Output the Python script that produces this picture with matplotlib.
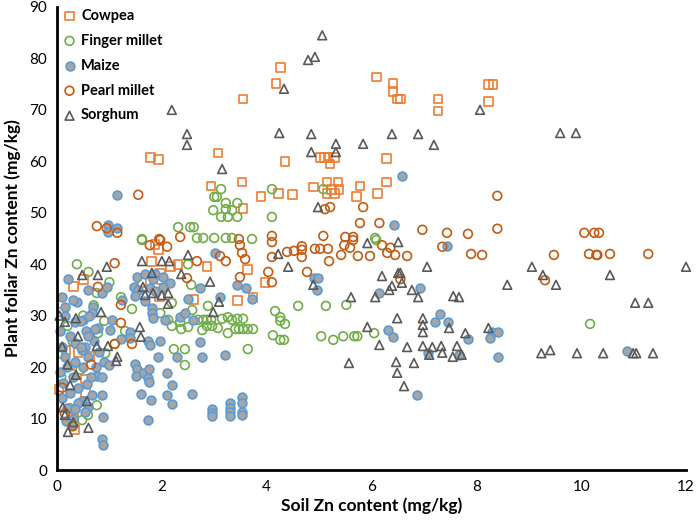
import matplotlib
matplotlib.use("Agg")
import matplotlib.pyplot as plt

# Cowpea
cowpea_x = [4.27, 4.18, 6.09, 6.41, 6.41, 6.49, 6.56, 7.27, 7.27, 8.23, 8.32, 8.23, 3.55,
            1.79, 1.93, 3.07, 2.94, 3.53, 3.89, 3.55, 4.35, 5.02, 5.11, 5.17, 5.29, 5.21,
            6.28, 5.15, 5.36, 4.89, 5.23, 5.38, 5.15, 5.29, 4.22, 4.50, 5.78, 6.28, 6.11,
            5.71, 1.81, 2.31, 2.86, 2.16, 3.64, 1.62, 2.00, 1.97, 0.50, 0.32, 2.60, 3.44,
            3.74, 1.95, 0.40, 0.63, 1.93, 1.87, 0.34, 0.31, 0.04, 0.55, 0.55, 3.97, 0.10,
            0.17, 0.25]
cowpea_y = [78.3, 75.2, 76.4, 75.2, 73.5, 72.1, 72.1, 72.1, 69.8, 75.0, 75.0, 71.7, 72.1,
            60.8, 60.3, 61.6, 55.2, 56.0, 53.1, 50.9, 59.9, 60.8, 60.8, 60.8, 60.8, 59.5,
            60.5, 56.0, 56.0, 55.0, 54.6, 54.6, 53.8, 53.8, 53.8, 53.5, 55.2, 56.0, 53.8,
            53.1, 40.6, 40.0, 39.5, 39.5, 38.9, 36.4, 37.1, 38.3, 37.1, 35.6, 33.2, 33.0,
            33.6, 33.8, 22.9, 22.0, 42.8, 43.9, 7.8, 10.1, 15.6, 15.0, 17.7, 36.5, 30.7,
            23.3, 20.2]

# Finger millet
finger_x = [3.13, 3.00, 3.05, 3.22, 3.44, 3.22, 3.34, 2.98, 3.13, 3.26, 3.44, 2.31, 2.54,
            2.61, 1.62, 2.67, 2.79, 3.00, 3.22, 3.34, 3.72, 4.10, 5.08, 4.10, 6.07, 0.38,
            1.62, 2.50, 2.56, 0.76, 1.22, 1.43, 2.19, 1.97, 2.88, 2.58, 2.12, 2.19, 2.35,
            2.37, 2.50, 2.69, 2.79, 2.86, 2.94, 2.77, 2.86, 2.96, 3.07, 3.15, 3.26, 3.34,
            3.44, 3.55, 3.26, 3.40, 3.47, 3.55, 3.64, 3.74, 0.78, 0.63, 2.23, 2.44, 3.64,
            0.92, 4.16, 4.26, 4.26, 4.35, 4.60, 5.13, 5.52, 4.12, 4.26, 4.33, 5.04, 5.27,
            5.46, 5.67, 5.73, 6.05, 6.09, 10.17, 2.44, 0.76, 0.48, 0.59, 0.08, 0.20, 0.50,
            0.90, 0.10, 0.30, 0.70, 1.10, 0.45, 0.25, 1.00, 0.60, 1.30]
finger_y = [54.6, 53.1, 53.1, 51.9, 51.9, 50.7, 50.5, 50.5, 49.2, 49.2, 49.2, 47.2, 47.2,
            47.2, 44.9, 45.1, 45.1, 45.1, 45.1, 45.1, 44.9, 54.6, 54.6, 49.2, 45.1, 40.0,
            44.7, 40.0, 36.0, 34.4, 33.6, 31.3, 32.5, 30.5, 31.9, 31.1, 29.2, 28.0, 28.8,
            27.4, 27.8, 29.2, 29.2, 29.2, 29.2, 27.2, 28.0, 28.0, 27.6, 29.4, 29.7, 29.2,
            29.4, 29.4, 26.6, 27.4, 27.4, 27.4, 27.4, 27.4, 26.6, 26.6, 23.5, 23.5, 23.5,
            22.7, 30.9, 29.7, 29.0, 28.4, 31.9, 31.9, 32.1, 26.2, 25.3, 25.3, 26.0, 25.3,
            26.0, 26.0, 26.0, 26.6, 44.7, 28.4, 20.4, 12.6, 9.7, 10.7, 18.1, 28.0, 30.0,
            29.0, 22.5, 25.0, 32.0, 24.5, 19.5, 12.0, 36.5, 38.5, 27.0]

# Maize
maize_x = [1.15, 0.97, 0.97, 1.15, 6.58, 6.43, 0.21, 0.59, 0.86, 0.95, 1.53, 1.68, 1.87,
           2.02, 2.16, 1.83, 1.47, 1.55, 1.77, 1.87, 2.02, 1.49, 1.68, 1.24, 1.81, 1.81,
           1.83, 2.06, 2.35, 2.44, 2.60, 2.73, 2.50, 3.02, 3.44, 3.61, 3.11, 3.72, 1.05,
           0.69, 0.67, 0.50, 0.34, 0.15, 0.38, 0.10, 0.78, 1.01, 1.39, 1.22, 1.39, 1.74,
           1.77, 1.97, 2.73, 0.34, 0.53, 0.48, 1.93, 2.29, 2.77, 3.21, 4.90, 4.98, 4.96,
           6.15, 6.93, 7.44, 7.31, 7.21, 7.46, 6.32, 6.41, 7.84, 7.08, 7.67, 8.30, 8.42,
           8.26, 8.42, 10.88, 1.49, 1.53, 1.64, 1.51, 1.76, 1.74, 1.76, 2.10, 2.19, 1.60,
           1.79, 2.10, 2.19, 2.58, 0.86, 0.88, 1.74, 0.86, 0.88, 2.96, 2.96, 2.96, 3.30,
           3.30, 3.30, 3.30, 3.53, 3.53, 3.53, 3.53, 0.67, 0.76, 0.86, 0.57, 0.48, 0.59,
           0.53, 6.87, 0.05, 0.10, 0.15, 0.20, 0.25, 0.30, 0.35, 0.40, 0.45, 0.50, 0.55,
           0.60, 0.65, 0.70, 0.75, 0.80, 0.10, 0.20, 0.30, 0.15, 0.30, 0.45, 0.62, 0.05,
           0.12, 0.25, 0.40, 0.60, 0.72, 0.90, 1.00, 0.35, 0.18, 0.28]
maize_y = [53.5, 47.6, 46.3, 47.0, 57.2, 47.6, 37.1, 35.0, 34.4, 35.6, 37.5, 38.1, 38.1,
           37.5, 36.4, 37.1, 35.6, 35.0, 35.4, 34.8, 35.6, 33.8, 32.9, 33.0, 31.5, 30.5,
           29.5, 29.2, 29.7, 30.5, 29.2, 35.4, 33.2, 42.2, 36.0, 35.4, 33.6, 33.2, 29.2,
           31.7, 30.5, 29.2, 28.8, 31.7, 32.7, 33.6, 27.6, 27.2, 26.8, 25.5, 25.7, 25.1,
           24.3, 25.1, 24.9, 24.7, 23.9, 23.3, 22.0, 22.0, 22.0, 22.4, 37.3, 37.3, 35.0,
           34.4, 35.4, 43.5, 30.3, 28.8, 28.8, 27.2, 25.9, 25.5, 22.7, 22.4, 26.8, 26.8,
           25.7, 22.0, 23.1, 20.6, 19.6, 18.9, 18.3, 19.6, 17.9, 17.1, 18.9, 16.5, 14.8,
           13.6, 14.6, 12.8, 14.8, 14.6, 10.3, 9.7, 6.0, 4.9, 11.9, 11.1, 10.5, 13.0,
           12.1, 11.3, 10.5, 14.2, 13.0, 11.3, 10.7, 14.6, 18.3, 18.1, 16.7, 13.4, 12.2,
           11.3, 14.6, 27.0, 24.0, 22.0, 20.0, 26.0, 18.0, 21.0, 16.0, 24.0, 20.0, 27.0,
           22.0, 18.0, 25.0, 20.0, 23.0, 14.0, 12.0, 10.0, 30.0, 33.0, 29.0, 30.0, 19.0,
           17.0, 15.0, 13.0, 26.0, 27.5, 21.0, 20.5, 11.8, 9.5, 8.8]

# Pearl millet
pearl_x = [1.55, 0.76, 0.95, 1.15, 1.95, 2.35, 3.47, 5.11, 5.21, 5.84, 5.78, 6.15, 6.97,
           7.44, 7.84, 4.10, 5.08, 5.50, 5.65, 8.40, 8.40, 10.06, 10.25, 10.34, 1.77, 2.10,
           1.97, 1.10, 2.67, 3.11, 3.22, 3.53, 3.59, 3.49, 0.78, 2.48, 1.22, 1.22, 1.10,
           1.43, 3.49, 4.10, 4.39, 4.52, 4.67, 4.67, 4.67, 4.92, 5.02, 5.17, 5.19, 5.42,
           5.48, 5.59, 5.65, 5.74, 5.97, 6.20, 6.30, 6.36, 6.45, 6.68, 7.35, 7.90, 4.03,
           4.10, 4.77, 6.55, 4.10, 8.11, 9.48, 10.15, 10.29, 10.31, 10.55, 11.28, 9.31,
           0.15, 0.30, 0.10, 0.65]
pearl_y = [53.5, 47.4, 47.0, 46.1, 44.9, 45.3, 44.9, 50.7, 51.1, 51.1, 48.0, 48.0, 46.7,
           46.1, 45.9, 45.5, 45.5, 45.3, 45.3, 53.3, 46.9, 46.1, 46.1, 46.1, 43.7, 43.4,
           44.7, 40.2, 40.6, 41.6, 40.6, 42.2, 41.0, 37.5, 35.6, 37.3, 32.1, 28.6, 24.5,
           24.5, 43.7, 41.4, 42.4, 42.6, 43.5, 42.8, 41.4, 43.0, 43.0, 43.0, 40.6, 41.8,
           43.7, 43.2, 44.7, 41.6, 41.6, 43.7, 42.2, 43.2, 41.8, 41.6, 43.4, 42.0, 38.5,
           36.5, 38.5, 37.1, 44.3, 41.8, 41.8, 42.0, 41.8, 41.8, 42.0, 42.0, 36.9,
           11.0, 8.5, 16.0, 20.5]

# Sorghum
sorghum_x = [5.06, 4.79, 4.92, 4.33, 8.07, 2.19, 2.48, 2.48, 3.15, 4.24, 4.85, 5.32, 4.85,
             5.32, 5.84, 6.39, 6.89, 7.19, 4.98, 9.60, 9.90, 1.62, 2.00, 2.14, 2.50, 0.95,
             0.48, 0.78, 1.81, 2.37, 2.92, 1.64, 1.83, 2.12, 2.00, 1.68, 2.12, 3.09, 2.98,
             0.84, 0.36, 0.15, 1.58, 1.60, 0.76, 0.97, 1.15, 4.22, 4.41, 4.89, 5.92, 6.51,
             7.06, 6.20, 6.51, 6.55, 6.39, 6.58, 6.34, 6.77, 6.07, 5.61, 6.89, 7.56, 7.67,
             6.49, 6.98, 6.98, 6.98, 7.48, 7.79, 5.92, 6.15, 6.68, 6.98, 7.16, 7.33, 7.63,
             7.10, 7.35, 7.55, 7.72, 9.06, 9.27, 9.52, 8.59, 10.55, 12.00, 11.03, 11.28,
             8.23, 9.24, 9.41, 9.92, 10.42, 10.99, 11.05, 11.37, 1.13, 0.60, 0.21, 0.31,
             0.15, 0.11, 0.25, 0.36, 0.57, 5.57, 6.47, 6.81, 6.49, 6.62, 0.10, 0.20, 0.05,
             0.40]
sorghum_y = [84.5, 79.7, 80.3, 74.1, 70.0, 70.0, 65.3, 63.2, 58.5, 65.5, 65.3, 63.4, 61.8,
             61.8, 63.4, 65.3, 65.3, 63.2, 51.1, 65.5, 65.5, 40.6, 40.6, 40.6, 41.8, 39.5,
             37.9, 37.9, 38.3, 38.1, 36.6, 35.6, 34.4, 34.4, 34.0, 34.0, 32.3, 32.7, 30.7,
             30.7, 29.5, 28.8, 27.8, 25.9, 24.1, 24.1, 22.0, 42.0, 39.5, 36.0, 44.1, 44.3,
             39.5, 37.7, 38.3, 38.3, 35.8, 36.4, 35.0, 35.0, 33.6, 33.6, 33.6, 33.8, 33.6,
             29.5, 29.5, 28.2, 26.8, 27.6, 26.6, 27.8, 24.3, 23.9, 24.1, 23.9, 24.1, 24.1,
             22.4, 22.8, 22.0, 22.4, 39.5, 37.9, 36.0, 36.0, 37.9, 39.5, 32.5, 32.5,
             27.6, 22.7, 23.3, 22.7, 22.7, 22.7, 22.7, 22.7, 21.2, 8.2, 7.4, 9.3,
             10.7, 12.2, 16.5, 18.5, 13.4, 20.8, 21.0, 20.8, 18.9, 16.3, 24.0, 20.5, 30.0,
             26.0]

x_ticks = [0, 2, 4, 6, 8, 10, 12]
y_ticks = [0, 10, 20, 30, 40, 50, 60, 70, 80, 90]

plt.rcParams['font.family'] = ['Lato', 'DejaVu Sans']

fig = plt.figure(figsize=(6.96, 5.21), dpi=100)
ax = fig.add_axes([57 / 696, 1 - 470 / 521, (686 - 57) / 696, (470 - 7) / 521])

ms = 40
ax.scatter(cowpea_x, cowpea_y, s=ms, marker='s', facecolors='none', edgecolors='#ED7D31',
           linewidths=1.2, label='Cowpea', clip_on=False)
ax.scatter(finger_x, finger_y, s=ms, marker='o', facecolors='none', edgecolors='#70AD47',
           linewidths=1.2, label='Finger millet', clip_on=False)
ax.scatter(maize_x, maize_y, s=ms, marker='o', facecolors='#A5A5A5', edgecolors='#5B9BD5',
           linewidths=1.2, label='Maize', clip_on=False)
ax.scatter(pearl_x, pearl_y, s=ms, marker='o', facecolors='none', edgecolors='#C55A11',
           linewidths=1.2, label='Pearl millet', clip_on=False)
ax.scatter(sorghum_x, sorghum_y, s=ms, marker='^', facecolors='none', edgecolors='#595959',
           linewidths=1.2, label='Sorghum', clip_on=False)

ax.set_xlim(0, 12)
ax.set_ylim(0, 90)
ax.set_xticks(x_ticks)
ax.set_yticks(y_ticks)
ax.tick_params(length=0, labelsize=11, pad=7)
for s in ['top', 'right']:
    ax.spines[s].set_visible(False)
for s in ['left', 'bottom']:
    ax.spines[s].set_linewidth(2)
    ax.spines[s].set_color('black')

ax.set_xlabel('Soil Zn content (mg/kg)', fontsize=12.5, fontweight='bold', labelpad=3)
ax.set_ylabel('Plant foliar Zn content (mg/kg)', fontsize=12.5, fontweight='bold', labelpad=6)

leg = ax.legend(loc='upper left', bbox_to_anchor=(52 / 696, 1 - 0 / 521),
                bbox_transform=fig.transFigure, frameon=False,
                prop={'weight': 'bold', 'size': 10.5}, handletextpad=0.2,
                labelspacing=0.75, borderpad=0.1, handlelength=1.2, scatterpoints=1)

fig.savefig('out.png', dpi=100)
